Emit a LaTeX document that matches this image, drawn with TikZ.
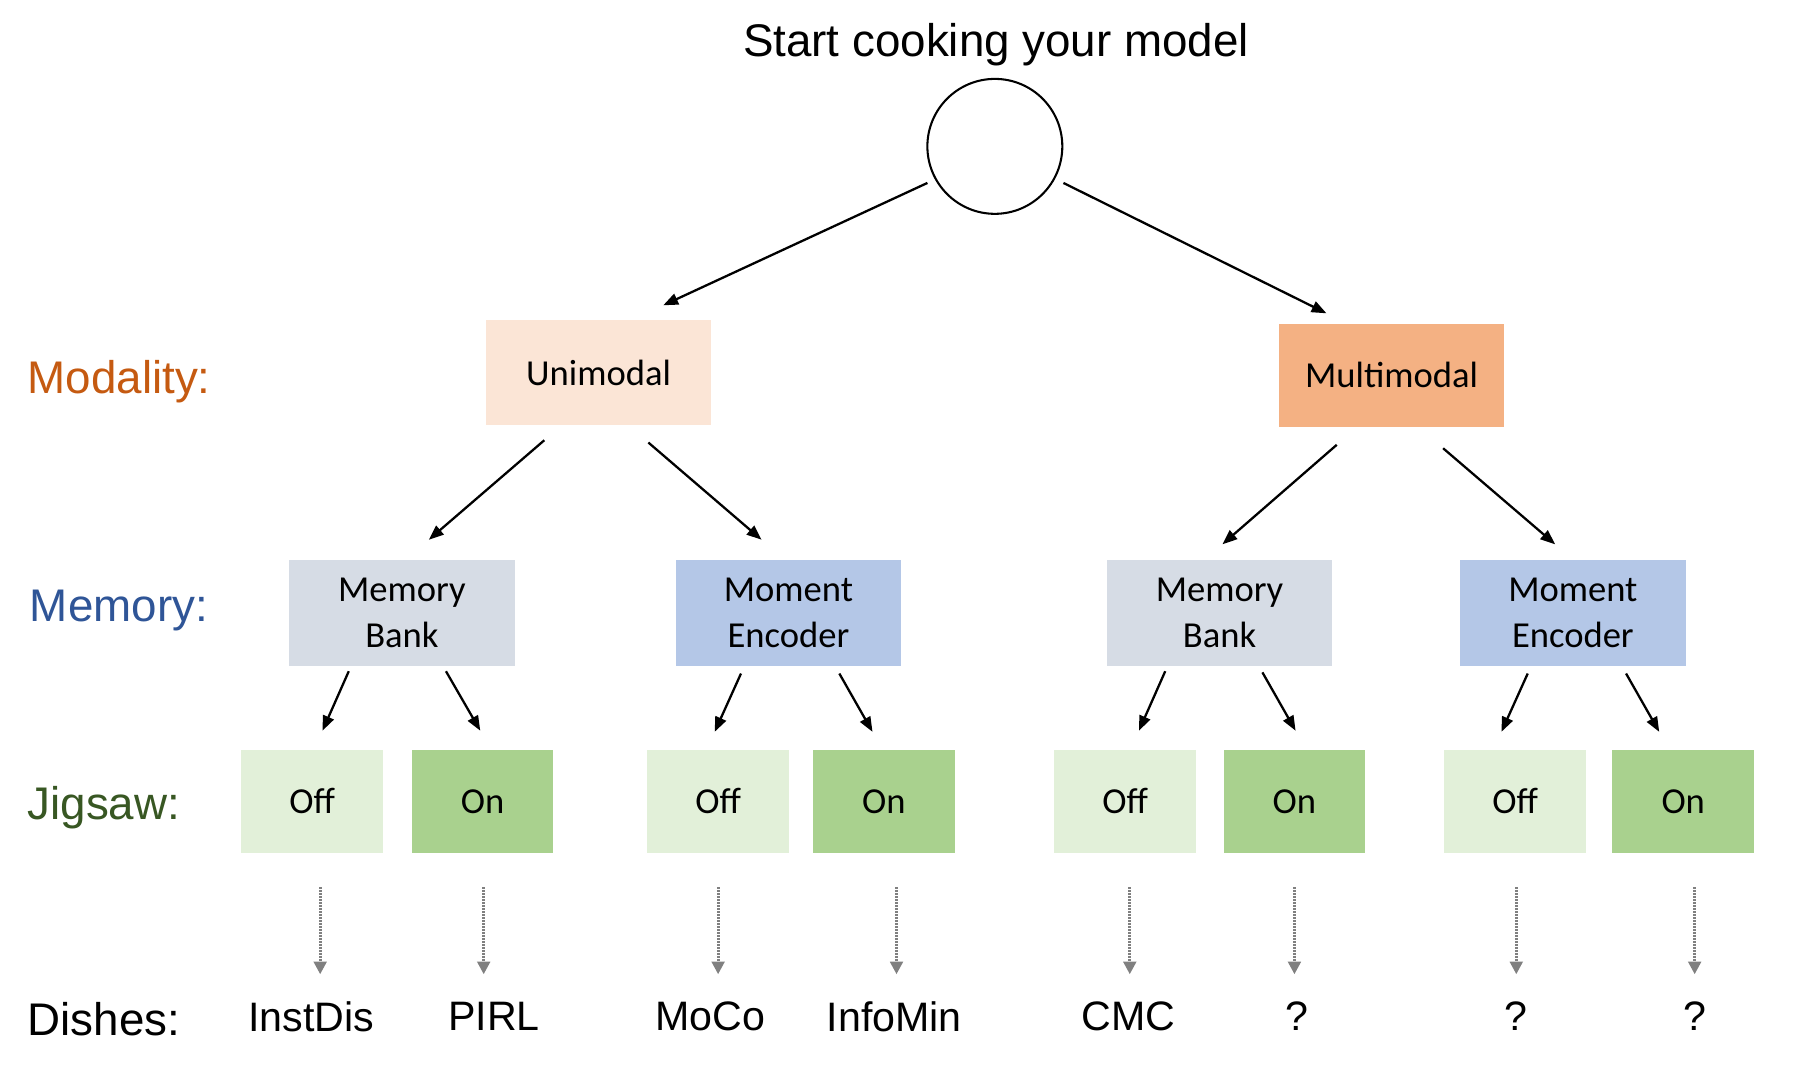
\documentclass[tikz,border=0pt]{standalone}
\usepackage{fontspec}
\setmainfont{Liberation Sans}
\newfontfamily\boxfont{Carlito}
\usetikzlibrary{arrows.meta}
\definecolor{uniC}{HTML}{FBE5D6}
\definecolor{multiC}{HTML}{F4B183}
\definecolor{bankC}{HTML}{D6DCE5}
\definecolor{encC}{HTML}{B4C7E7}
\definecolor{offC}{HTML}{E2F0D9}
\definecolor{onC}{HTML}{A9D18E}
\definecolor{modC}{HTML}{C55A11}
\definecolor{memC}{HTML}{2F5597}
\definecolor{jigC}{HTML}{385723}
\definecolor{dotC}{HTML}{808080}
\tikzset{
  bigbox/.style={rectangle, inner sep=0pt, minimum width=197pt, minimum height=92pt, align=center, font=\boxfont\fontsize{32}{39.5}\selectfont},
  smallbox/.style={rectangle, inner sep=0pt, minimum width=124pt, minimum height=90pt, text height=20pt, text depth=0pt, font=\boxfont\fontsize{32}{39}\selectfont},
  rowlabel/.style={anchor=west, inner sep=0pt, font=\fontsize{40}{48}\selectfont},
  dish/.style={inner sep=0pt, font=\fontsize{36}{43}\selectfont},
  treearrow/.style={line width=2pt, -{Triangle[length=13pt,width=10pt]}},
  dotarrow/.style={line width=2.6pt, dotC, dash pattern=on 1.6pt off 1pt, -{Triangle[length=11pt,width=11pt]}}
}
\begin{document}
\begin{tikzpicture}[x=1pt,y=-1pt]
\useasboundingbox (0,0) rectangle (1568,939);
% title and root
\node[inner sep=0pt, font=\fontsize{40}{48}\selectfont] (title) at (871,39) {Start cooking your model};
\node[circle, draw, line width=1.8pt, minimum size=118pt, inner sep=0pt] (root) at (870,128) {};
% row labels
\node[rowlabel, text=modC] (lmod) at (24,334) {Modality:};
\node[rowlabel, text=memC] (lmem) at (26,534) {Memory:};
\node[rowlabel, text=jigC] (ljig) at (24,706) {Jigsaw:};
\node[rowlabel] (ldish) at (24,891) {Dishes:};
% modality boxes
\node[bigbox, fill=uniC] (uni) at (523.5,326) {Unimodal};
\node[bigbox, fill=multiC, minimum height=90pt] (multi) at (1217,328) {Multimodal};
% memory boxes
\node[bigbox, fill=bankC] (mb1) at (351.5,536) {Memory\\Bank};
\node[bigbox, fill=encC] (me1) at (689.5,536) {Moment\\Encoder};
\node[bigbox, fill=bankC] (mb2) at (1066.5,536) {Memory\\Bank};
\node[bigbox, fill=encC] (me2) at (1375.5,536) {Moment\\Encoder};
% jigsaw boxes
\node[smallbox, fill=offC] (j1) at (273,701) {Off};
\node[smallbox, fill=onC]  (j2) at (422,701) {On};
\node[smallbox, fill=offC] (j3) at (628,701) {Off};
\node[smallbox, fill=onC]  (j4) at (773,701) {On};
\node[smallbox, fill=offC] (j5) at (984,701) {Off};
\node[smallbox, fill=onC]  (j6) at (1132,701) {On};
\node[smallbox, fill=offC] (j7) at (1325,701) {Off};
\node[smallbox, fill=onC]  (j8) at (1472,701) {On};
% dishes
\node[dish] (d1) at (272,889) {InstDis};
\node[dish] (d2) at (432,889) {PIRL};
\node[dish] (d3) at (621,889) {MoCo};
\node[dish] (d4) at (782,889) {InfoMin};
\node[dish] (d5) at (987,889) {CMC};
\node[dish] (d6) at (1134,889) {?};
\node[dish] (d7) at (1326,889) {?};
\node[dish] (d8) at (1482,889) {?};
% arrow end points
\coordinate (r1s) at (811,160); \coordinate (r1e) at (580,267);
\coordinate (r2s) at (930,160); \coordinate (r2e) at (1160,274);
\coordinate (u1s) at (476,385); \coordinate (u1e) at (375,472);
\coordinate (u2s) at (567,387); \coordinate (u2e) at (666,472);
\coordinate (m1s) at (1169,389); \coordinate (m1e) at (1069,476);
\coordinate (m2s) at (1262,392); \coordinate (m2e) at (1360,476);
\coordinate (a1s) at (305,587); \coordinate (a1e) at (282,639);
\coordinate (a2s) at (390,587); \coordinate (a2e) at (420,639);
\coordinate (a3s) at (648,589); \coordinate (a3e) at (625,640);
\coordinate (a4s) at (734,589); \coordinate (a4e) at (763,640);
\coordinate (a5s) at (1019,587); \coordinate (a5e) at (996,639);
\coordinate (a6s) at (1104,588); \coordinate (a6e) at (1133,639);
\coordinate (a7s) at (1336,589); \coordinate (a7e) at (1313,640);
\coordinate (a8s) at (1422,589); \coordinate (a8e) at (1451,640);
\foreach \s/\e in {r1s/r1e,r2s/r2e,u1s/u1e,u2s/u2e,m1s/m1e,m2s/m2e,a1s/a1e,a2s/a2e,a3s/a3e,a4s/a4e,a5s/a5e,a6s/a6e,a7s/a7e,a8s/a8e}
  \draw[treearrow] (\s) -- (\e);
% dotted arrows
\foreach \n/\x in {1/280,2/423,3/628,4/784,5/988,6/1132,7/1326,8/1482}{
  \coordinate (ds\n) at (\x,776);
  \coordinate (de\n) at (\x,852);
  \draw[dotarrow] (ds\n) -- (de\n);
}
\end{tikzpicture}
\end{document}
